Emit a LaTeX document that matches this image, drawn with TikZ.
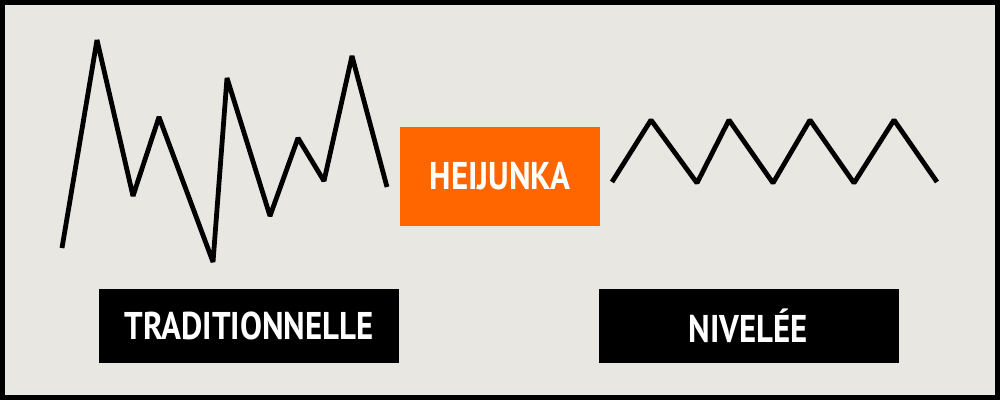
\documentclass[tikz,border=0pt]{standalone}
\usepackage{fontspec}
\setmainfont{PT Sans}[FakeStretch=0.85]
\usetikzlibrary{positioning}

\definecolor{paper}{RGB}{232,231,225}
\definecolor{heiorange}{RGB}{255,102,0}

\tikzset{every picture/.style={line width=0.75pt}}
\tikzset{
  zigzag/.style={line width=3.6pt, line join=bevel, line cap=butt},
  labelbox/.style={fill=black, text=white, minimum width=225pt, minimum height=55.5pt, inner sep=0pt, font=\bfseries\fontsize{29}{29}\selectfont},
  heibox/.style={fill=heiorange, text=white, minimum width=150pt, minimum height=74.25pt, inner sep=0pt, font=\bfseries\fontsize{29}{29}\selectfont}
}

\begin{document}
\begin{tikzpicture}[x=0.75pt,y=0.75pt,yscale=-1,xscale=1]
\useasboundingbox (0,0) rectangle (1000,400);

%Shape: Rectangle [id:frame] 
\fill [black] (0,0) rectangle (1000,400) ;
\fill [paper] (5,5) rectangle (995,395) ;

%Straight Lines [id:traditionnelle] 
\draw [zigzag] (62,248) -- (97,40) -- (133,196) -- (159,117) -- (213,262) -- (227,78) -- (270,216) -- (298,138) -- (324,181) -- (352,56) -- (387,187) ;
%Straight Lines [id:nivelee] 
\draw [zigzag] (612,182) -- (651,120) -- (697,183) -- (729,120) -- (773,183) -- (810,120) -- (854,183) -- (894,120) -- (937,182) ;

% Text Node
\node [heibox] (heijunka) at (500,176.5) {HEIJUNKA};
% Text Node
\node [labelbox] (trad) at (249,326) {TRADITIONNELLE};
% Text Node
\node [labelbox] (niv) at (748.5,326) {NIVELÉE};

\end{tikzpicture}
\end{document}
